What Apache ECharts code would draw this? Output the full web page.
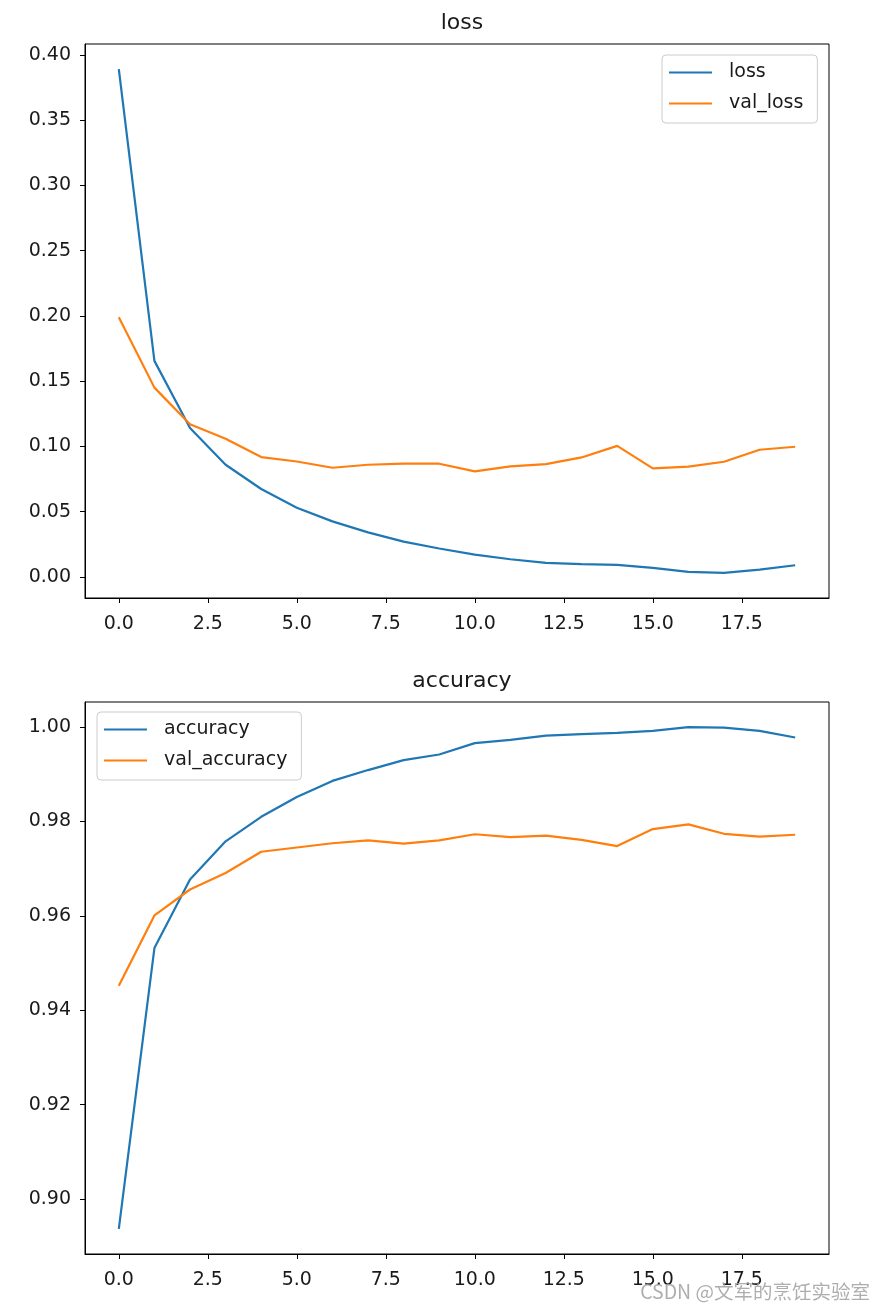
<!DOCTYPE html>
<html>
<head>
<meta charset="utf-8">
<script src="https://cdn.jsdelivr.net/npm/echarts@6/dist/echarts.min.js"></script>
<style>
html,body{margin:0;padding:0;background:#fff;}
#c{width:884px;height:1310px;}
</style>
</head>
<body>
<div id="c"></div>
<script>
const epochs = [0,1,2,3,4,5,6,7,8,9,10,11,12,13,14,15,16,17,18,19];
const loss = [0.389,0.1655,0.114,0.0859,0.0673,0.0530,0.0425,0.0341,0.0270,0.0217,0.0171,0.0135,0.0107,0.0097,0.0092,0.0069,0.0038,0.0031,0.0056,0.0089];
const valLoss = [0.1989,0.1450,0.1170,0.1058,0.0918,0.0884,0.0836,0.0859,0.0867,0.0867,0.0808,0.0846,0.0864,0.0915,0.1004,0.0831,0.0844,0.0882,0.0974,0.0997];
const accuracy = [0.8937,0.9532,0.9677,0.9758,0.9810,0.9852,0.9886,0.9909,0.9930,0.9942,0.9966,0.9973,0.9982,0.9985,0.9988,0.9992,1.0000,0.9999,0.9992,0.9978];
const valAccuracy = [0.9452,0.9601,0.9656,0.9691,0.9736,0.9745,0.9754,0.9760,0.9753,0.9760,0.9773,0.9767,0.9770,0.9761,0.9748,0.9784,0.9794,0.9774,0.9768,0.9772];
const xTicks = [0,2.5,5,7.5,10,12.5,15,17.5];
const lossTicks = [0,0.05,0.10,0.15,0.20,0.25,0.30,0.35,0.40];
const accTicks = [0.90,0.92,0.94,0.96,0.98,1.00];

const FONT = 'DejaVu Sans';
const TXT = '#1a1a1a';
const pairs = arr => arr.map((v,i)=>[epochs[i], v]);

function xAxis(gi){
  return {
    type:'value', gridIndex:gi, min:-0.95, max:19.95,
    splitLine:{show:false},
    axisLine:{show:true, onZero:false, lineStyle:{color:'#000', width:1}},
    axisTick:{show:true, length:5, customValues:xTicks, lineStyle:{color:'#000', width:1}},
    axisLabel:{customValues:xTicks, color:TXT, fontFamily:FONT, fontSize:19, margin:17,
      formatter:v=>Number(v).toFixed(1)}
  };
}
function yAxis(gi, min, max, ticks){
  return {
    type:'value', gridIndex:gi, min:min, max:max,
    splitLine:{show:false},
    axisLine:{show:true, onZero:false, lineStyle:{color:'#000', width:1}},
    axisTick:{show:true, length:5, customValues:ticks, lineStyle:{color:'#000', width:1}},
    axisLabel:{customValues:ticks, color:TXT, fontFamily:FONT, fontSize:19, margin:14,
      formatter:v=>Number(v).toFixed(2)}
  };
}
function legend(names, left, top){
  return {
    data:names, orient:'vertical', left:left, top:top,
    padding:[8,14,10,7], itemGap:12, itemWidth:43, itemHeight:2.2, icon:'rect',
    backgroundColor:'rgba(255,255,255,0.8)', borderColor:'#cccccc', borderWidth:1, borderRadius:4,
    textStyle:{color:TXT, fontFamily:FONT, fontSize:19, padding:[0,0,0,12]}
  };
}
function line(name, data, color, xi){
  return {
    name:name, type:'line', xAxisIndex:xi, yAxisIndex:xi, data:pairs(data),
    symbol:'none', smooth:false, animation:false,
    lineStyle:{color:color, width:2.2}, itemStyle:{color:color}
  };
}

const chart = echarts.init(document.getElementById('c'), null, {renderer:'canvas'});
chart.setOption({
  backgroundColor:'#fff',
  animation:false,
  title:[
    {text:'loss', left:457, top:7, textAlign:'center', textStyle:{fontFamily:FONT, fontSize:22, fontWeight:'normal', color:TXT}},
    {text:'accuracy', left:457, top:665, textAlign:'center', textStyle:{fontFamily:FONT, fontSize:22, fontWeight:'normal', color:TXT}}
  ],
  grid:[
    {left:85, top:44, width:744, height:554, show:true, borderColor:'#000', borderWidth:1, backgroundColor:'#fff'},
    {left:85, top:702, width:744, height:552, show:true, borderColor:'#000', borderWidth:1, backgroundColor:'#fff'}
  ],
  xAxis:[xAxis(0), xAxis(1)],
  yAxis:[yAxis(0, -0.0162, 0.4083, lossTicks), yAxis(1, 0.88838, 1.00532, accTicks)],
  legend:[legend(['loss','val_loss'], 662, 55), legend(['accuracy','val_accuracy'], 97, 712)],
  series:[
    line('loss', loss, '#1f77b4', 0),
    line('val_loss', valLoss, '#ff7f0e', 0),
    line('accuracy', accuracy, '#1f77b4', 1),
    line('val_accuracy', valAccuracy, '#ff7f0e', 1)
  ],
  graphic:[{
    type:'text', right:14, bottom:9, z:100,
    style:{text:'CSDN @文军的烹饪实验室', fill:'rgba(160,160,160,0.85)', font:'19.5px "Noto Sans CJK SC", "DejaVu Sans"'}
  }]
});
</script>
</body>
</html>
